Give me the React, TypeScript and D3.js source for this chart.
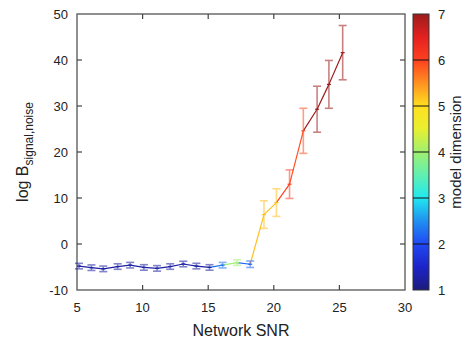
import * as d3 from "d3";
import { useEffect, useRef } from "react";

// network SNR of each injection
const snr = [5.15, 6.1, 7.0, 8.1, 9.05, 10.1, 11.1, 12.1, 13.1, 14.1, 15.1, 16.1, 17.2, 18.2, 19.25, 20.2, 21.2, 22.25, 23.3, 24.2, 25.25];
// log Bayes factor signal vs noise
const logB = [-4.8, -5.15, -5.4, -4.9, -4.6, -5.1, -5.3, -4.9, -4.35, -4.8, -5.1, -4.6, -4.05, -4.4, 6.4, 9.0, 13.0, 24.6, 29.3, 34.7, 41.6];
// error (half width)
const logBErr = [0.6, 0.6, 0.6, 0.6, 0.6, 0.6, 0.6, 0.6, 0.6, 0.6, 0.6, 0.6, 0.6, 0.7, 3.0, 3.0, 3.1, 4.9, 5.0, 5.2, 5.9];
// recovered model dimension (colour)
const modelDim = [1.25, 1.25, 1.25, 1.25, 1.25, 1.25, 1.25, 1.25, 1.25, 1.25, 1.25, 2.3, 4.0, 2.2, 5.2, 5.2, 6.0, 5.9, 7, 7, 7];

const xTicks = [5, 10, 15, 20, 25, 30];
const yTicks = [-10, 0, 10, 20, 30, 40, 50];
const cTicks = [1, 2, 3, 4, 5, 6, 7];

const colorStops = [1, 1.5, 2, 2.5, 3, 3.5, 4, 4.5, 5, 5.5, 6, 6.5, 7];
const colorValues = ["#1c1c7c", "#1c24c8", "#2048f4", "#2090f0", "#20e8f0", "#60f0b0", "#a0f070", "#e8f030", "#ffe020", "#ff9020", "#ff4020", "#e42020", "#9c1c1c"];

const App = () => {
  const chartRef = useRef(null);

  useEffect(() => {
    const svg = d3.select(chartRef.current);
    svg.selectAll("*").remove();

    const margin = { top: 14, left: 77, right: 67, bottom: 60 };
    const width = 472;
    const height = 350;
    const font = "'Liberation Sans', Arial, sans-serif";

    const x = d3.scaleLinear().domain([5, 30]).range([margin.left, width - margin.right]);
    const y = d3.scaleLinear().domain([-10, 50]).range([height - margin.bottom, margin.top]);
    const color = d3.scaleLinear<string>().domain(colorStops).range(colorValues).clamp(true);

    const x0 = x(5), x1 = x(30), y0 = y(-10), y1 = y(50);

    // frame
    svg.append("rect")
      .attr("x", x0).attr("y", y1)
      .attr("width", x1 - x0).attr("height", y0 - y1)
      .attr("fill", "none").attr("stroke", "#555").attr("stroke-width", 1.3);

    const tickLen = 5;
    xTicks.forEach(t => {
      if (t === 5 || t === 30) return;
      svg.append("line").attr("x1", x(t)).attr("x2", x(t)).attr("y1", y0).attr("y2", y0 - tickLen).attr("stroke", "#444").attr("stroke-width", 1.2);
      svg.append("line").attr("x1", x(t)).attr("x2", x(t)).attr("y1", y1).attr("y2", y1 + tickLen).attr("stroke", "#444").attr("stroke-width", 1.2);
    });
    yTicks.forEach(t => {
      if (t === -10 || t === 50) return;
      svg.append("line").attr("x1", x0).attr("x2", x0 + tickLen).attr("y1", y(t)).attr("y2", y(t)).attr("stroke", "#444").attr("stroke-width", 1.2);
      svg.append("line").attr("x1", x1).attr("x2", x1 - tickLen).attr("y1", y(t)).attr("y2", y(t)).attr("stroke", "#444").attr("stroke-width", 1.2);
    });

    svg.append("g").selectAll("text").data(xTicks).enter().append("text")
      .attr("x", d => x(d)).attr("y", y0 + 22)
      .attr("text-anchor", "middle")
      .style("font-family", font).style("font-size", "13px").attr("fill", "#222")
      .text(d => d);

    svg.append("g").selectAll("text").data(yTicks).enter().append("text")
      .attr("x", x0 - 9).attr("y", d => y(d) + 5)
      .attr("text-anchor", "end")
      .style("font-family", font).style("font-size", "13px").attr("fill", "#222")
      .text(d => d);

    svg.append("text")
      .attr("x", (x0 + x1) / 2).attr("y", 336)
      .attr("text-anchor", "middle")
      .style("font-family", font).style("font-size", "16px").attr("fill", "#222")
      .text("Network SNR");

    const yl = svg.append("text")
      .attr("transform", `translate(28, ${(y0 + y1) / 2}) rotate(-90)`)
      .attr("text-anchor", "middle")
      .style("font-family", font).style("font-size", "16px").attr("fill", "#222");
    yl.append("tspan").text("log B");
    yl.append("tspan").attr("dy", 5).style("font-size", "12px").text("signal,noise");

    // connecting line, each segment coloured by its end point
    for (let i = 1; i < snr.length; i++) {
      svg.append("line")
        .attr("x1", x(snr[i - 1])).attr("y1", y(logB[i - 1]))
        .attr("x2", x(snr[i])).attr("y2", y(logB[i]))
        .attr("stroke", color(modelDim[i])).attr("stroke-width", 1.2);
    }

    // error bars
    const cap = 4;
    snr.forEach((s, i) => {
      const c = color(modelDim[i]);
      const g = svg.append("g").attr("stroke", c).attr("stroke-width", 1.6).attr("opacity", 0.55);
      const cx = x(s);
      const lo = y(logB[i] - logBErr[i]);
      const hi = y(logB[i] + logBErr[i]);
      g.append("line").attr("x1", cx).attr("x2", cx).attr("y1", lo).attr("y2", hi);
      g.append("line").attr("x1", cx - cap).attr("x2", cx + cap).attr("y1", lo).attr("y2", lo);
      g.append("line").attr("x1", cx - cap).attr("x2", cx + cap).attr("y1", hi).attr("y2", hi);
      svg.append("line")
        .attr("x1", cx - 2).attr("x2", cx + 2)
        .attr("y1", y(logB[i])).attr("y2", y(logB[i]))
        .attr("stroke", c).attr("stroke-width", 1.2);
    });

    // colour bar
    const cbX = 413, cbW = 16;
    const cy = d3.scaleLinear().domain([1, 7]).range([y0, y1]);
    const grad = svg.append("defs").append("linearGradient")
      .attr("id", "cbar").attr("x1", 0).attr("x2", 0).attr("y1", 1).attr("y2", 0);
    colorStops.forEach((v, i) => {
      grad.append("stop").attr("offset", (v - 1) / 6).attr("stop-color", colorValues[i]);
    });
    svg.append("rect")
      .attr("x", cbX).attr("y", y1).attr("width", cbW).attr("height", y0 - y1)
      .attr("fill", "url(#cbar)").attr("stroke", "#333").attr("stroke-width", 1);
    cTicks.forEach(t => {
      if (t !== 1 && t !== 7) {
        svg.append("line").attr("x1", cbX).attr("x2", cbX + cbW).attr("y1", cy(t)).attr("y2", cy(t)).attr("stroke", "#111").attr("stroke-width", 1);
      }
      svg.append("text")
        .attr("x", cbX + cbW + 9).attr("y", cy(t) + 5)
        .style("font-family", font).style("font-size", "13px").attr("fill", "#222")
        .text(t);
    });
    svg.append("text")
      .attr("transform", `translate(461, ${(y0 + y1) / 2}) rotate(-90)`)
      .attr("text-anchor", "middle")
      .style("font-family", font).style("font-size", "15px").attr("fill", "#222")
      .text("model dimension");
  }, []);

  return (
    <svg ref={chartRef} width={472} height={350} style={{ position: "absolute", left: 0, top: 0, background: "#fff" }}></svg>
  );
};

export default App;
